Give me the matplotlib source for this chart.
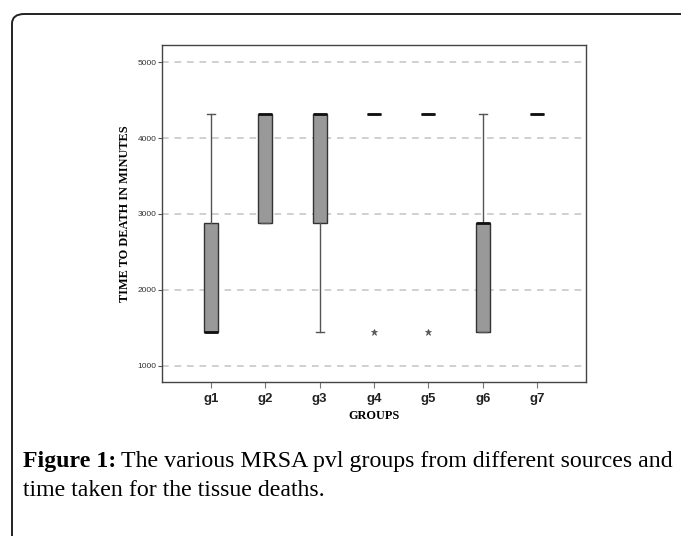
import matplotlib
matplotlib.use("Agg")
import matplotlib.pyplot as plt
from matplotlib.patches import FancyBboxPatch

groups = ["g1", "g2", "g3", "g4", "g5", "g6", "g7"]
whisker_low = [1440, 2880, 1440, 4320, 4320, 1440, 4320]
q1 = [1440, 2880, 2880, 4320, 4320, 1440, 4320]
median = [1440, 4320, 4320, 4320, 4320, 2880, 4320]
q3 = [2880, 4320, 4320, 4320, 4320, 2880, 4320]
whisker_high = [4320, 4320, 4320, 4320, 4320, 4320, 4320]
outliers = [[], [], [], [1440], [1440], [], []]
yticks = [1000, 2000, 3000, 4000, 5000]

fig = plt.figure(figsize=(6.81, 5.36), dpi=100)

# outer rounded frame (open to the right and bottom)
frame = FancyBboxPatch((12 / 681, -0.2), 1.2, 1.2 - 14 / 536,
                       boxstyle="round,pad=0,rounding_size=0.018",
                       transform=fig.transFigure, fill=False,
                       edgecolor="#222222", linewidth=1.4, clip_on=False)
fig.patches.append(frame)

ax = fig.add_axes([162 / 681, 1 - 382 / 536, (586 - 162) / 681, (382 - 45) / 536])

stats = []
for i, g in enumerate(groups):
    stats.append(dict(label=g, whislo=whisker_low[i], q1=q1[i], med=median[i],
                      q3=q3[i], whishi=whisker_high[i], fliers=outliers[i]))

positions = list(range(1, len(groups) + 1))
ax.bxp(stats, positions=positions, widths=0.26, patch_artist=True,
       showfliers=True, capwidths=0.15,
       boxprops=dict(facecolor="#999999", edgecolor="#333333", linewidth=1.0),
       medianprops=dict(color="#111111", linewidth=2.0),
       whiskerprops=dict(color="#555555", linewidth=1.0),
       capprops=dict(color="#555555", linewidth=1.0),
       flierprops=dict(marker="*", markersize=4.5, markerfacecolor="#555555",
                       markeredgecolor="#555555", markeredgewidth=0.5, linestyle="none"))

ax.set_xlim(0.1, 7.9)
ax.set_ylim(785, 5228)
ax.set_yticks(yticks)
ax.set_yticklabels([str(v) for v in yticks], fontsize=6, family="Liberation Sans", color="#333333")
ax.set_xticks(positions)
ax.set_xticklabels(groups, fontsize=9.5, fontweight="bold", family="Liberation Sans", color="#222222")
ax.tick_params(axis="y", length=3, width=0.8, color="#555555", pad=1)
ax.tick_params(axis="x", length=4, width=0.8, color="#777777", pad=4)

for v in yticks:
    ax.axhline(v, color="#c8c8c8", linewidth=1.2, dashes=(4, 3.5), zorder=0)

for s in ax.spines.values():
    s.set_color("#444444")
    s.set_linewidth(1.0)

ax.set_ylabel("TIME TO DEATH IN MINUTES", fontsize=8.8, fontweight="bold",
              family="Liberation Serif")
ax.yaxis.set_label_coords(-0.073, 0.5)
ax.set_xlabel("GROUPS", fontsize=8.8, fontweight="bold", family="Liberation Serif")
ax.xaxis.set_label_coords(0.5, -0.083)

# caption
cap_size = 17.2
t1 = fig.text(23 / 681, 1 - 461 / 536, "Figure 1:", fontsize=cap_size, fontweight="bold",
              family="Liberation Serif", va="center", ha="left")
fig.canvas.draw()
bb = t1.get_window_extent()
fig.text(bb.x1 / 681 + 5 / 681, 1 - 461 / 536,
         "The various MRSA pvl groups from different sources and",
         fontsize=cap_size, family="Liberation Serif", va="center", ha="left")
fig.text(23 / 681, 1 - 491 / 536, "time taken for the tissue deaths.",
         fontsize=cap_size, family="Liberation Serif", va="center", ha="left")

fig.savefig("out.png", dpi=100)
